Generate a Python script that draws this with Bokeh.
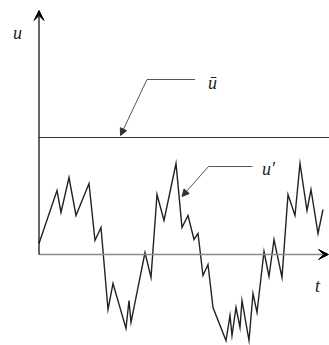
from bokeh.plotting import figure
from bokeh.models import Range1d, Arrow, NormalHead, VeeHead, Label
from bokeh.embed import file_html
from bokeh.resources import INLINE

# time samples and fluctuating velocity u'(t)
t_vals = [0.0, 1.8, 2.2, 3.0, 3.7, 5.0, 5.6, 6.2, 6.9, 7.4, 8.7, 9.0, 9.2, 10.6,
          11.2, 11.8, 12.5, 13.7, 14.3, 14.9, 15.5, 15.9, 16.4, 16.9, 17.4, 18.7,
          19.1, 19.3, 19.7, 20.1, 20.3, 21.0, 21.4, 21.8, 22.5, 23.0, 23.5, 24.3,
          24.9, 25.6, 26.1, 26.8, 27.2, 27.9, 28.4]
u_prime = [1.1, 6.4, 4.2, 7.7, 3.9, 7.1, 1.4, 2.7, -5.5, -2.9, -7.4, -4.6, -6.8, 0.2,
           -2.3, 6.0, 3.4, 9.1, 2.7, 3.9, 1.5, 2.1, -2.1, -1.0, -5.3, -8.6,
           -6.1, -8.1, -5.3, -7.3, -4.6, -8.6, -3.9, -5.8, 0.3, -2.2, 1.5, -2.3,
           6.0, 3.9, 9.1, 4.4, 6.5, 2.1, 4.5]
u_mean = 11.7

# axis extents
t_min, t_max = -3.85, 29.05
u_min, u_max = -9.1, 25.4
t_axis_end = 28.95
u_axis_end = 24.4

# labels
labels = ["u", "\u016b", "u\u2032", "t"]
label_t = [-2.15, 17.35, 22.95, 27.85]
label_u = [22.2, 17.2, 8.6, -3.1]

# leader lines: (end of horizontal, knee, arrow tip)
mean_leader = dict(h_end=(15.6, 17.5), knee=(10.8, 17.5), tip=(8.15, 11.9))
fluc_leader = dict(h_end=(21.35, 8.8), knee=(16.95, 8.8), tip=(14.3, 5.8))

p = figure(width=329, height=345, output_backend="svg", toolbar_location=None,
           x_range=Range1d(t_min, t_max), y_range=Range1d(u_min, u_max),
           min_border=0, min_border_left=0, min_border_right=0,
           min_border_top=0, min_border_bottom=0)
p.axis.visible = False
p.grid.visible = False
p.outline_line_color = None
p.background_fill_color = "white"
p.border_fill_color = "white"

# mean line
p.line([0, t_max], [u_mean, u_mean], line_color="#333333", line_width=1.2)

# fluctuation
p.line(t_vals, u_prime, line_color="#222222", line_width=1.4, line_join="miter")

# axes
p.add_layout(Arrow(x_start=0, y_start=0, x_end=t_axis_end, y_end=0,
                   line_color="#8a8a8a", line_width=1.5,
                   end=VeeHead(size=10, fill_color="black", line_color="black")))
p.add_layout(Arrow(x_start=0, y_start=0, x_end=0, y_end=u_axis_end,
                   line_color="black", line_width=1.2,
                   end=VeeHead(size=10, fill_color="black", line_color="black")))

# leaders
for ld in (mean_leader, fluc_leader):
    p.line([ld["h_end"][0], ld["knee"][0]], [ld["h_end"][1], ld["knee"][1]],
           line_color="#555555", line_width=1)
    p.add_layout(Arrow(x_start=ld["knee"][0], y_start=ld["knee"][1],
                       x_end=ld["tip"][0], y_end=ld["tip"][1],
                       line_color="#555555", line_width=1,
                       end=NormalHead(size=7, fill_color="#333333", line_color="#333333")))

for txt, tx, ty in zip(labels, label_t, label_u):
    p.add_layout(Label(x=tx, y=ty, text=txt, text_font="Liberation Serif",
                       text_font_style="italic", text_font_size="18px",
                       text_color="#222222", text_align="center",
                       text_baseline="middle"))

open("out.html", "w").write(file_html(p, INLINE))
